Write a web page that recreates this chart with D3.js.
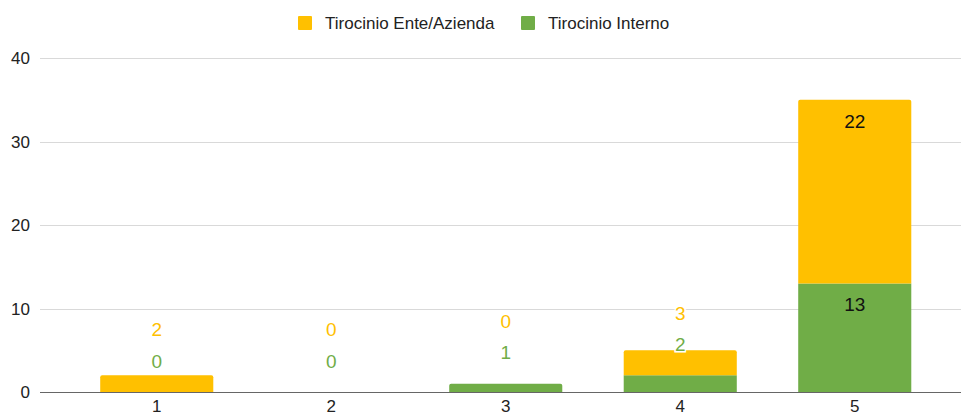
<!DOCTYPE html>
<html><head><meta charset="utf-8">
<script src="https://cdn.jsdelivr.net/npm/d3@7"></script>
<style>
body{margin:0;background:#fff;}
svg{display:block;font-family:"Liberation Sans",Arial,sans-serif;}
</style></head>
<body><svg id="c" width="961" height="417"></svg>
<script>
const categories = ["1","2","3","4","5"];
const seriesNames = ["Tirocinio Interno","Tirocinio Ente/Azienda"];
const interno = [0,0,1,2,13];
const ente = [2,0,0,3,22];
const yTicks = [0,10,20,30,40];
const colors = ["#70AD47","#FFC000"];

const svg = d3.select("#c");
const W = 961, H = 417;
const x = d3.scaleBand().domain(categories).range([69.5,942]).paddingInner(0.352).paddingOuter(0.176);
const y = d3.scaleLinear().domain([0,40]).range([392,58]);

// gridlines
svg.append("g").selectAll("line").data(yTicks.filter(d=>d!==0)).join("line")
  .attr("x1",40).attr("x2",W).attr("y1",d=>Math.round(y(d))+0.5).attr("y2",d=>Math.round(y(d))+0.5)
  .attr("stroke","#d9d9d9").attr("stroke-width",1);

// y labels
svg.append("g").selectAll("text").data(yTicks).join("text")
  .attr("x",30).attr("y",d=>y(d)).attr("dy","0.36em").attr("text-anchor","end")
  .attr("font-size",17).attr("fill","#222").text(d=>d);

// stack
const rows = categories.map((c,i)=>({cat:c, v:[interno[i], ente[i]]}));
const segs = [];
rows.forEach(r=>{
  let base=0;
  r.v.forEach((v,s)=>{segs.push({cat:r.cat, s, y0:base, y1:base+v, v}); base+=v;});
});

const bw = x.bandwidth();
function barPath(x0,yt,yb,w,r){
  const h = yb-yt;
  if(h<=0) return "";
  r = Math.min(r,h,w/2);
  return `M${x0},${yb}V${yt+r}Q${x0},${yt} ${x0+r},${yt}H${x0+w-r}Q${x0+w},${yt} ${x0+w},${yt+r}V${yb}Z`;
}
svg.append("g").selectAll("path").data(segs.filter(d=>d.v>0)).join("path")
  .attr("d",d=>{
    const isTop = rows.find(r=>r.cat===d.cat).v.slice(d.s+1).every(v=>v===0);
    return barPath(x(d.cat), y(d.y1), y(d.y0), bw, isTop?2:0);
  })
  .attr("fill",d=>colors[d.s]);

// baseline
svg.append("line").attr("x1",40).attr("x2",W).attr("y1",y(0)+0.5).attr("y2",y(0)+0.5)
  .attr("stroke","#666").attr("stroke-width",1.2);

// x labels
svg.append("g").selectAll("text").data(categories).join("text")
  .attr("x",d=>x(d)+bw/2).attr("y",412).attr("text-anchor","middle")
  .attr("font-size",17).attr("fill","#222").text(d=>d);

// data labels
const labels = [];
rows.forEach(r=>{
  let prev = null;
  let base = 0;
  r.v.forEach((v,s)=>{
    const top = y(base+v), bot = y(base);
    base += v;
    if(bot-top > 40){
      labels.push({cat:r.cat, s, v, cy: top+21, inside:true});
    } else {
      let cy = top - 31;
      if(prev!==null) cy = Math.min(cy, prev - 31.5);
      prev = cy;
      labels.push({cat:r.cat, s, v, cy, inside:false});
    }
  });
});
svg.append("g").selectAll("text").data(labels).join("text")
  .attr("x",d=>x(d.cat)+bw/2).attr("y",d=>d.cy).attr("dy","0.36em").attr("text-anchor","middle")
  .attr("font-size",19)
  .attr("fill",d=>d.inside?"#111":colors[d.s])
  .attr("stroke",d=>d.inside?"none":"#fff").attr("stroke-width",3).attr("paint-order","stroke")
  .text(d=>d.v);

// legend
const leg = [{name:seriesNames[1], c:colors[1], x:298},{name:seriesNames[0], c:colors[0], x:521}];
const lg = svg.append("g");
leg.forEach(l=>{
  lg.append("rect").attr("x",l.x).attr("y",16).attr("width",14).attr("height",14).attr("rx",1).attr("fill",l.c);
  lg.append("text").attr("x",l.x+27).attr("y",23).attr("dy","0.36em").attr("font-size",17).attr("fill","#222").text(l.name);
});
</script></body></html>
